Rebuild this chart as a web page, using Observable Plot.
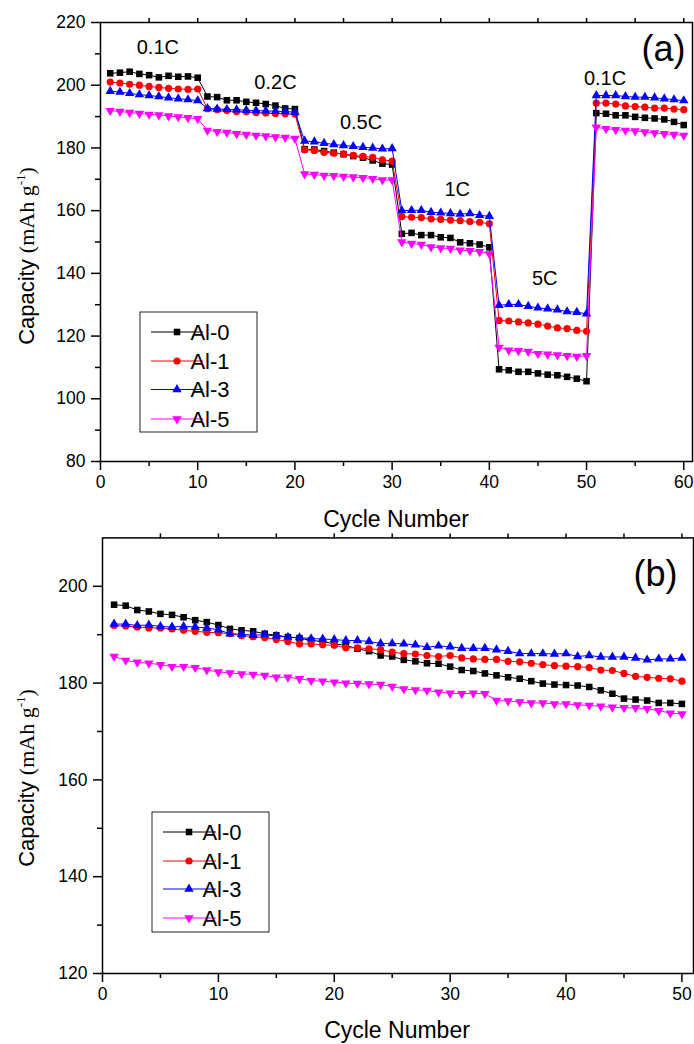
<!DOCTYPE html>
<html><head><meta charset="utf-8">
<script src="https://cdn.jsdelivr.net/npm/d3@7"></script>
<script src="https://cdn.jsdelivr.net/npm/@observablehq/plot@0.6"></script>
<style>
html,body{margin:0;padding:0;background:#fff;}
#chart svg{display:block;}
</style></head><body><div id="chart"></div>
<script>
// ---------- data ----------
const seriesNames = ["Al-0", "Al-1", "Al-3", "Al-5"];
const seriesColors = ["#000000", "#ff0000", "#0000ff", "#ff00ff"];

// Panel (a): rate capability, 60 cycles
const cyclesA = d3.range(1, 61);
const al0A = [203.8,204.0,204.3,203.6,203.2,202.5,203.0,202.7,202.8,202.4,
  196.4,196.2,195.2,195.2,194.7,194.4,194.0,193.5,192.6,192.4,
  179.6,179.5,179.0,178.5,178.0,177.4,176.9,176.0,175.0,174.7,
  152.6,152.9,152.2,152.2,151.5,151.3,149.9,149.6,149.2,148.3,
  109.4,109.1,108.6,108.6,108.1,107.7,107.5,107.0,106.4,105.6,
  191.1,190.9,190.4,190.4,189.9,189.6,189.4,189.1,188.3,187.3];
const al1A = [201.0,200.7,200.3,200.0,199.6,199.3,199.0,198.8,198.7,198.8,
  192.5,192.2,191.9,191.6,191.5,191.3,191.1,191.0,190.9,190.8,
  179.4,179.2,178.6,178.3,178.1,177.6,177.3,177.0,176.2,175.8,
  158.1,157.9,157.8,157.4,157.2,157.0,156.8,156.5,156.3,155.8,
  125.0,124.8,124.5,124.2,123.8,123.2,122.6,122.4,121.8,121.5,
  194.3,194.3,194.0,193.4,193.2,193.0,192.7,192.7,192.4,192.2];
const al3A = [198.1,197.8,197.4,197.0,196.7,196.4,196.0,195.7,195.4,195.1,
  192.6,192.4,192.3,192.2,192.0,191.9,191.8,191.7,191.6,191.4,
  182.2,182.0,181.5,181.1,180.8,180.5,180.2,180.0,179.7,179.8,
  160.0,160.1,160.1,159.5,159.3,159.1,158.9,159.1,158.5,158.2,
  129.8,130.1,130.1,129.5,129.0,128.7,128.4,127.8,127.6,127.1,
  196.7,196.7,196.7,196.4,196.2,196.2,196.0,195.7,195.4,195.1];
const al5A = [191.9,191.6,191.3,191.0,190.7,190.5,190.2,189.9,189.6,189.3,
  185.6,185.2,184.9,184.5,184.3,184.0,183.8,183.5,183.3,183.0,
  171.7,171.5,171.2,171.1,170.9,170.7,170.5,170.2,169.8,169.8,
  150.0,149.5,149.2,148.4,148.1,147.9,147.4,147.2,146.9,146.2,
  116.4,115.5,115.3,115.1,114.4,114.2,114.0,113.7,113.5,113.7,
  186.6,186.1,185.8,185.6,185.4,185.1,184.8,184.5,184.3,184.0];
const rateLabels = ["0.1C", "0.2C", "0.5C", "1C", "5C", "0.1C"];
const rateLabelCycle = [5.9, 18.0, 26.8, 36.7, 45.7, 51.9];
const rateLabelCap = [211.9, 200.7, 188.0, 166.6, 138.2, 202.0];

// Panel (b): cycling, 50 cycles
const cyclesB = d3.range(1, 51);
const al0B = [196.2,196.0,195.1,194.8,194.3,194.1,193.6,193.0,192.6,192.0,
  191.2,190.9,190.7,190.2,189.9,189.5,189.3,188.8,188.6,188.1,
  187.8,187.1,186.6,185.7,185.5,184.8,184.5,184.1,184.0,183.4,
  182.7,182.5,182.0,181.6,181.2,180.9,180.4,179.9,179.7,179.6,
  179.5,179.2,178.5,177.8,176.8,176.6,176.4,175.9,175.9,175.7];
const al1B = [191.9,191.8,191.6,191.4,191.4,191.2,190.9,190.7,190.5,190.4,
  190.2,189.8,189.6,189.4,189.0,188.6,188.1,188.1,187.9,187.8,
  187.3,187.3,187.1,186.9,186.4,186.1,186.0,185.7,185.5,185.7,
  185.2,185.0,184.9,184.9,184.5,184.4,184.1,183.8,183.6,183.5,
  183.4,183.2,182.7,182.6,182.0,181.4,181.2,181.0,180.9,180.4];
const al3B = [192.2,192.2,191.9,192.0,191.7,191.6,191.7,191.6,191.4,191.0,
  190.2,190.1,189.9,190.0,189.7,189.5,189.4,189.2,189.1,189.0,
  188.8,188.8,188.6,188.2,188.2,188.1,187.9,187.4,187.7,187.5,
  187.2,187.2,187.2,186.9,186.6,186.1,186.1,186.1,186.0,186.1,
  185.5,185.7,185.4,185.4,185.4,185.2,184.8,185.0,185.0,185.2];
const al5B = [185.5,184.7,184.3,184.1,183.8,183.4,183.4,183.2,182.7,182.3,
  182.1,181.9,181.8,181.6,181.2,181.2,180.9,180.5,180.4,180.2,
  180.0,179.9,179.8,179.7,179.3,178.8,178.6,178.5,178.1,177.9,
  177.8,177.9,177.8,176.4,176.3,176.1,175.9,175.9,175.7,175.7,
  175.5,175.4,175.2,175.0,174.9,174.9,174.7,174.3,173.8,173.6];

// tick values
const yMajorA = [80,100,120,140,160,180,200,220];
const yMinorA = [90,110,130,150,170,190,210];
const xMajorA = [0,10,20,30,40,50,60];
const xMinorA = [5,15,25,35,45,55];
const xTopA = [5,10,15,20,25,30,35,40,45,50,55,60];
const yMajorB = [120,140,160,180,200];
const yMinorB = [130,150,170,190];
const xMajorB = [0,10,20,30,40,50];
const xMinorB = [5,15,25,35,45];
const xTopB = [5,10,15,20,25,30,35,40,45,50];

// ---------- symbols ----------
const SQ3 = Math.sqrt(3);
const triangleDown = {
  draw(ctx, size) {
    const y = Math.sqrt(size / (SQ3 * 3));
    ctx.moveTo(0, 2 * y);
    ctx.lineTo(SQ3 * y, -y);
    ctx.lineTo(-SQ3 * y, -y);
    ctx.closePath();
  }
};
const plotSymbols = ["square", "circle", "triangle", triangleDown];
const d3Symbols = [d3.symbolSquare, d3.symbolCircle, d3.symbolTriangle, triangleDown];
const symR = [3.7, 3.6, 3.5, 3.5];

const SANS = "'Liberation Sans', Arial, Helvetica, sans-serif";
const SERIF = "'Liberation Serif', 'Times New Roman', serif";

function makePanel(cfg) {
  const marks = [];
  cfg.values.forEach((vals, i) => {
    const data = cfg.cycles.map((c, j) => ({cycle: c, cap: vals[j]}));
    marks.push(Plot.line(data, {x: "cycle", y: "cap", stroke: seriesColors[i], strokeWidth: 1}));
    marks.push(Plot.dot(data, {x: "cycle", y: "cap", symbol: plotSymbols[i], r: symR[i], fill: seriesColors[i], stroke: "none"}));
  });
  marks.push(
    Plot.frame({stroke: "black", strokeWidth: 1.5}),
    Plot.axisY({ticks: cfg.yMajor, tickSize: 9, tickPadding: 6, strokeWidth: 1.5, label: null, fontSize: 17}),
    Plot.axisY({ticks: cfg.yMinor, tickSize: 5, strokeWidth: 1.5, fill: "none", label: null}),
    Plot.axisX({ticks: cfg.xMajor, tickSize: 9, tickPadding: 5, strokeWidth: 1.5, label: null, fontSize: 17}),
    Plot.axisX({ticks: cfg.xMinor, tickSize: 5, strokeWidth: 1.5, fill: "none", label: null}),
    Plot.axisX({anchor: "top", ticks: cfg.xTop, tickSize: 5, strokeWidth: 1.5, fill: "none", label: null}),
    Plot.text([cfg.tag], {frameAnchor: "top-right", textAnchor: "end", lineAnchor: "top", dx: cfg.tagDx, dy: cfg.tagDy, fontSize: 36, fill: "black"})
  );
  if (cfg.extra) marks.push(...cfg.extra);
  const svg = Plot.plot({
    width: 694, height: cfg.height,
    marginTop: cfg.mt, marginBottom: cfg.mb, marginLeft: cfg.ml, marginRight: cfg.mr,
    style: {fontFamily: SANS, fontSize: "17px", color: "black", background: "white", overflow: "visible"},
    x: {domain: cfg.xDomain, label: null},
    y: {domain: cfg.yDomain, label: null},
    marks
  });
  const s = d3.select(svg);
  // enforce tick-label font (the only purely numeric texts are the tick labels)
  s.selectAll("text")
    .filter(function () { return /^\d+$/.test(this.textContent.trim()); })
    .style("font-size", "17.5px").style("font-family", SANS);
  // y-axis title
  const yt = s.append("text")
    .attr("transform", `translate(${cfg.ytX},${cfg.ytY}) rotate(-90)`)
    .attr("text-anchor", "middle").attr("fill", "black").style("font-size", "22px");
  yt.append("tspan").style("font-family", SANS).text("Capacity ");
  yt.append("tspan").style("font-family", SERIF).text("(mAh g");
  yt.append("tspan").style("font-family", SERIF).style("font-size", "13px").attr("dy", "-9").text("-1");
  yt.append("tspan").style("font-family", SERIF).attr("dy", "9").text(")");
  // x-axis title
  s.append("text").attr("x", cfg.xtX).attr("y", cfg.xtY).attr("text-anchor", "middle")
    .attr("fill", "black").style("font-family", SANS).style("font-size", "23px").text("Cycle Number");
  // legend
  const L = cfg.legend;
  const g = s.append("g");
  g.append("rect").attr("x", L.x0).attr("y", L.y0).attr("width", L.x1 - L.x0).attr("height", L.y1 - L.y0)
    .attr("fill", "white").attr("stroke", "#222").attr("stroke-width", 1);
  seriesNames.forEach((name, i) => {
    const y = L.rows[i];
    g.append("line").attr("x1", L.l0).attr("x2", L.l1).attr("y1", y).attr("y2", y)
      .attr("stroke", seriesColors[i]).attr("stroke-width", 1);
    g.append("path").attr("transform", `translate(${L.m},${y})`)
      .attr("d", d3.symbol(d3Symbols[i], symR[i] * symR[i] * Math.PI)()).attr("fill", seriesColors[i]);
    g.append("text").attr("x", L.tx).attr("y", y).attr("dy", "0.36em").attr("fill", "black")
      .style("font-family", SANS).style("font-size", "22px").text(name);
  });
  return svg;
}

const labelData = rateLabels.map((t, i) => ({t, cycle: rateLabelCycle[i], cap: rateLabelCap[i]}));

const svgA = makePanel({
  cycles: cyclesA, values: [al0A, al1A, al3A, al5A],
  xDomain: [0, 60.9], yDomain: [80, 220],
  height: 530, mt: 22, mb: 69, ml: 100, mr: 2,
  yMajor: yMajorA, yMinor: yMinorA, xMajor: xMajorA, xMinor: xMinorA, xTop: xTopA,
  tag: "(a)", tagDx: -7, tagDy: 13,
  extra: [Plot.text(labelData, {x: "cycle", y: "cap", text: "t", fontSize: 20, fill: "black"})],
  ytX: 34, ytY: 256, xtX: 396, xtY: 527,
  legend: {x0: 140, x1: 257, y0: 312, y1: 432, rows: [332, 361, 389.5, 419], l0: 151, l1: 203, m: 177, tx: 210}
});
const svgB = makePanel({
  cycles: cyclesB, values: [al0B, al1B, al3B, al5B],
  xDomain: [0, 51], yDomain: [120, 210],
  height: 514, mt: 7.4, mb: 71, ml: 102, mr: 1,
  yMajor: yMajorB, yMinor: yMinorB, xMajor: xMajorB, xMinor: xMinorB, xTop: xTopB,
  tag: "(b)", tagDx: -16, tagDy: 23,
  ytX: 34, ytY: 248, xtX: 397, xtY: 508,
  legend: {x0: 152, x1: 269, y0: 282, y1: 402, rows: [302, 331, 359, 388], l0: 163, l1: 216, m: 189, tx: 222}
});
document.getElementById("chart").append(svgA, svgB);
</script>
</body></html>
